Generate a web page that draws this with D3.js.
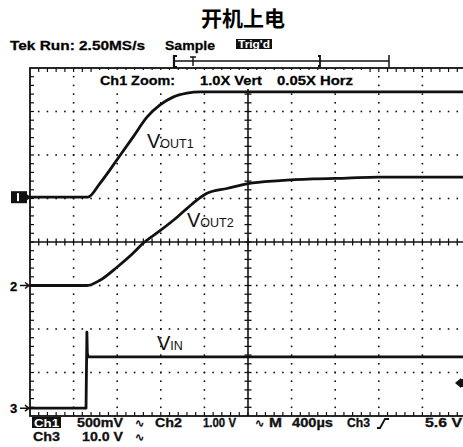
<!DOCTYPE html>
<html>
<head>
<meta charset="utf-8">
<script src="https://cdn.jsdelivr.net/npm/d3@7"></script>
<style>
  body { margin: 0; background: #fff; }
  svg { display: block; }
</style>
</head>
<body>
<svg id="scope" width="463" height="447"></svg>
<script>
// Captured traces: time in microseconds from the left edge of the screen, values in volts
const ch1Time  = [0, 530, 642, 798, 945, 1073, 1193, 1312, 1440, 1560, 4000];
const ch1Volts = [0, 0, 0.16, 0.43, 0.69, 0.92, 1.06, 1.15, 1.195, 1.21, 1.21];

const ch2Time  = [0, 523, 642, 798, 945, 1037, 1193, 1349, 1495, 1624, 1807, 1927, 2000, 2294, 2596, 2908, 3193, 4000];
const ch2Volts = [0, 0, 0.12, 0.42, 0.74, 0.97, 1.26, 1.57, 1.89, 2.12, 2.23, 2.30, 2.34, 2.41, 2.45, 2.47, 2.49, 2.49];

const ch3Time  = [0, 514, 516, 520, 522, 526, 534, 4000];
const ch3Volts = [0, 0, 4.5, 13, 17.5, 12.6, 11.8, 11.8];

// Scope settings (volts per division) and the readout texts
const voltsPerDiv = [0.5, 1.0, 10.0];
const traceLabels = [["V", "OUT1"], ["V", "OUT2"], ["V", "IN"]];
const titleText = "开机上电";
const statusTexts = ["Tek Run: 2.50MS/s", "Sample", "Trig'd"];
const zoomTexts = ["Ch1 Zoom:", "1.0X Vert", "0.05X Horz"];

const svg = d3.select("#scope");
const SCOPE_FONT = "'Liberation Sans', Arial, sans-serif";

// Screen: 10 horizontal divisions x 8 vertical divisions
const timePerDiv = 400;
const x = d3.scaleLinear().domain([0, 10 * timePerDiv]).range([30, 466]);
const yDiv = d3.scaleLinear().domain([-4, 4]).range([416, 68]);
const xDiv = d3.scaleLinear().domain([0, 10]).range([30, 466]);

// channel ground reference positions, in divisions from screen centre
const groundDiv = [1.03, -1.0, -3.82];

// ---------- title ----------
svg.append("text")
  .attr("x", 243).attr("y", 26)
  .attr("text-anchor", "middle")
  .attr("font-family", "'Noto Sans CJK SC', sans-serif")
  .attr("font-weight", "bold")
  .attr("font-size", 21)
  .text(titleText);

// ---------- status line ----------
svg.append("text").attr("x", 10).attr("y", 50)
  .attr("font-family", SCOPE_FONT).attr("font-weight", "bold").attr("font-size", 13)
  .attr("stroke", "#111").attr("stroke-width", 0.3)
  .attr("textLength", 135).attr("lengthAdjust", "spacingAndGlyphs")
  .text(statusTexts[0]);
svg.append("text").attr("x", 165).attr("y", 50)
  .attr("font-family", SCOPE_FONT).attr("font-weight", "bold").attr("font-size", 13)
  .attr("stroke", "#111").attr("stroke-width", 0.3)
  .attr("textLength", 50).attr("lengthAdjust", "spacingAndGlyphs")
  .text(statusTexts[1]);
svg.append("rect").attr("x", 236).attr("y", 39).attr("width", 36).attr("height", 10).attr("fill", "#111");
svg.append("text").attr("x", 238).attr("y", 48)
  .attr("font-family", SCOPE_FONT).attr("font-weight", "bold").attr("font-size", 10)
  .attr("fill", "#fff")
  .attr("textLength", 32).attr("lengthAdjust", "spacingAndGlyphs")
  .text(statusTexts[2]);

// record-length / trigger position bar
const bar = svg.append("g").attr("stroke", "#111").attr("fill", "none");
bar.append("line").attr("x1", 174).attr("x2", 389).attr("y1", 61).attr("y2", 61).attr("stroke-width", 1.4);
bar.append("path").attr("d", "M177,56 H174 V67 H177").attr("stroke-width", 2.2);
bar.append("path").attr("d", "M190,57 H196 M193,57 V66").attr("stroke-width", 1.4);
bar.append("path").attr("d", "M318,56 H320 V66 H318").attr("stroke-width", 1.8);
bar.append("line").attr("x1", 389).attr("x2", 389).attr("y1", 55).attr("y2", 67).attr("stroke-width", 1.5);

// ---------- graticule ----------
const grid = svg.append("g");
const dotSize = 1.6;
// dotted division lines
for (let i = 1; i < 10; i++) {
  if (i === 5) continue;
  for (let j = 1; j < 40; j++) {
    grid.append("rect")
      .attr("x", xDiv(i) - dotSize / 2).attr("y", yDiv(-4 + j * 0.2) - dotSize / 2)
      .attr("width", dotSize).attr("height", dotSize).attr("fill", "#111");
  }
}
for (let k = -3; k <= 3; k++) {
  if (k === 0) continue;
  for (let j = 1; j < 50; j++) {
    grid.append("rect")
      .attr("x", xDiv(j * 0.2) - dotSize / 2).attr("y", yDiv(k) - dotSize / 2)
      .attr("width", dotSize).attr("height", dotSize).attr("fill", "#111");
  }
}
// centre cross with minor ticks
grid.append("line").attr("x1", xDiv(0)).attr("x2", xDiv(10)).attr("y1", yDiv(0)).attr("y2", yDiv(0))
  .attr("stroke", "#111").attr("stroke-width", 1.6);
grid.append("line").attr("x1", xDiv(5)).attr("x2", xDiv(5)).attr("y1", yDiv(-4)).attr("y2", yDiv(4))
  .attr("stroke", "#111").attr("stroke-width", 1.6);
for (let j = 1; j < 50; j++) {
  const xx = xDiv(j * 0.2);
  grid.append("line").attr("x1", xx).attr("x2", xx).attr("y1", yDiv(0) - 3.5).attr("y2", yDiv(0) + 3.5)
    .attr("stroke", "#111").attr("stroke-width", 1.3);
  // ticks on top and bottom borders
  grid.append("line").attr("x1", xx).attr("x2", xx).attr("y1", yDiv(4)).attr("y2", yDiv(4) + 4)
    .attr("stroke", "#111").attr("stroke-width", 1.2);
  grid.append("line").attr("x1", xx).attr("x2", xx).attr("y1", yDiv(-4)).attr("y2", yDiv(-4) - 4)
    .attr("stroke", "#111").attr("stroke-width", 1.2);
}
for (let j = 1; j < 40; j++) {
  const yy = yDiv(-4 + j * 0.2);
  grid.append("line").attr("x1", xDiv(5) - 3.5).attr("x2", xDiv(5) + 3.5).attr("y1", yy).attr("y2", yy)
    .attr("stroke", "#111").attr("stroke-width", 1.3);
  grid.append("line").attr("x1", xDiv(0)).attr("x2", xDiv(0) + 4).attr("y1", yy).attr("y2", yy)
    .attr("stroke", "#111").attr("stroke-width", 1.2);
}
// screen border
grid.append("rect").attr("x", xDiv(0)).attr("y", yDiv(4))
  .attr("width", xDiv(10) - xDiv(0)).attr("height", yDiv(-4) - yDiv(4))
  .attr("fill", "none").attr("stroke", "#111").attr("stroke-width", 1.8);

// zoom readout on its own background
svg.append("rect").attr("x", 95).attr("y", 70).attr("width", 267).attr("height", 19).attr("fill", "#fff");
[[100, 75], [200, 62], [277, 76]].forEach((p, i) => {
  svg.append("text").attr("x", p[0]).attr("y", 85)
    .attr("font-family", SCOPE_FONT).attr("font-weight", "bold").attr("font-size", 13)
    .attr("stroke", "#111").attr("stroke-width", 0.3)
    .attr("textLength", p[1]).attr("lengthAdjust", "spacingAndGlyphs")
    .text(zoomTexts[i]);
});

// ---------- traces ----------
const traces = [
  { t: ch1Time, v: ch1Volts, curve: d3.curveMonotoneX },
  { t: ch2Time, v: ch2Volts, curve: d3.curveMonotoneX },
  { t: ch3Time, v: ch3Volts, curve: d3.curveLinear }
];
traces.forEach((tr, c) => {
  const yv = v => yDiv(groundDiv[c] + v / voltsPerDiv[c]);
  const line = d3.line()
    .x(d => x(d[0]))
    .y(d => yv(d[1]))
    .curve(tr.curve);
  svg.append("path")
    .datum(d3.zip(tr.t, tr.v))
    .attr("d", line)
    .attr("fill", "none")
    .attr("stroke", "#111")
    .attr("stroke-width", 2.8)
    .attr("stroke-linejoin", "round");
});

// trace labels with subscripts
const labelPos = [[147, 148], [187, 227], [157, 350]];
traceLabels.forEach((lab, i) => {
  const t = svg.append("text")
    .attr("x", labelPos[i][0]).attr("y", labelPos[i][1])
    .attr("font-family", SCOPE_FONT)
    .attr("fill", "#111");
  t.append("tspan").attr("font-size", 20).text(lab[0]);
  t.append("tspan").attr("font-size", 12.5).text(lab[1]);
});

// ---------- channel ground markers ----------
const gy = groundDiv.map(g => yDiv(g));
svg.append("rect").attr("x", 11).attr("y", gy[0] - 6).attr("width", 16).attr("height", 12).attr("fill", "#111");
svg.append("rect").attr("x", 17).attr("y", gy[0] - 4).attr("width", 2).attr("height", 8).attr("fill", "#fff");
svg.append("path").attr("d", `M27,${gy[0] - 3} L31,${gy[0]} L27,${gy[0] + 3} Z`).attr("fill", "#111");
["2", "3"].forEach((n, i) => {
  const yy = gy[i + 1];
  svg.append("text").attr("x", 10).attr("y", yy + 5)
    .attr("font-family", SCOPE_FONT).attr("font-weight", "bold").attr("font-size", 13)
    .attr("stroke", "#111").attr("stroke-width", 0.3)
    .text(n);
  svg.append("path").attr("d", `M20,${yy} H29 M25,${yy - 3} L29,${yy} L25,${yy + 3}`)
    .attr("stroke", "#111").attr("stroke-width", 1.5).attr("fill", "none");
});

// trigger level marker on the right edge
const trigY = 383;
svg.append("path").attr("d", `M455,${trigY} L461,${trigY - 5} L461,${trigY + 5} Z`).attr("fill", "#111");
svg.append("rect").attr("x", 461).attr("y", trigY - 4).attr("width", 2).attr("height", 8).attr("fill", "#111");

// ---------- bottom readout ----------
const readout = svg.append("g")
  .attr("font-family", SCOPE_FONT).attr("font-weight", "bold").attr("font-size", 12).attr("fill", "#111");
readout.append("rect").attr("x", 32).attr("y", 417).attr("width", 29).attr("height", 11).attr("fill", "#111");
readout.append("text").attr("x", 34).attr("y", 427).attr("fill", "#fff").attr("font-size", 11)
  .attr("textLength", 25).attr("lengthAdjust", "spacingAndGlyphs").text("Ch1");
const row1 = [["500mV", 77, 46], ["Ch2", 155, 27], ["1.00 V", 203, 33], ["M", 269, 13], ["400µs", 292, 41], ["Ch3", 347, 23], ["5.6 V", 425, 37]];
row1.forEach(d => readout.append("text").attr("x", d[1]).attr("y", 427)
  .attr("stroke", "#111").attr("stroke-width", 0.3)
  .attr("textLength", d[2]).attr("lengthAdjust", "spacingAndGlyphs").text(d[0]));
const row2 = [["Ch3", 33, 27], ["10.0 V", 82, 41]];
row2.forEach(d => readout.append("text").attr("x", d[1]).attr("y", 441)
  .attr("stroke", "#111").attr("stroke-width", 0.3)
  .attr("textLength", d[2]).attr("lengthAdjust", "spacingAndGlyphs").text(d[0]));
// bandwidth-limit glyphs
[[135, 427], [255, 427], [135, 441]].forEach(p => {
  readout.append("text").attr("x", p[0]).attr("y", p[1]).attr("font-size", 11).text("∿");
});
// rising-edge trigger symbol
svg.append("path").attr("d", "M377,428 H380 L385,419 H389")
  .attr("stroke", "#111").attr("stroke-width", 1.8).attr("fill", "none");
</script>
</body>
</html>
